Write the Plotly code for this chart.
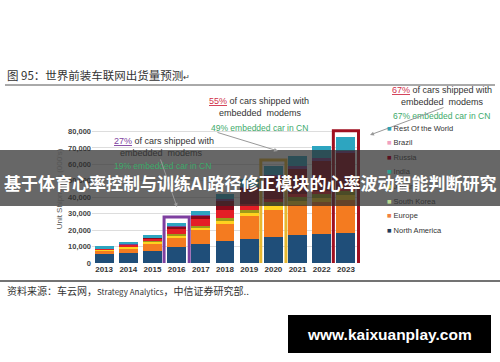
import plotly.graph_objects as go

years = ["2013", "2014", "2015", "2016", "2017", "2018", "2019", "2020", "2021", "2022", "2023"]
north_america = [5200, 6200, 7500, 9800, 11800, 13500, 14800, 15800, 16800, 17500, 18000]
europe = [2200, 2800, 4000, 5500, 8000, 10500, 13500, 16500, 18500, 19500, 20500]
south_korea = [700, 900, 1300, 1700, 1800, 2000, 2200, 2300, 2400, 2500, 2600]
japan = [300, 400, 500, 600, 800, 1200, 1800, 2200, 2500, 2800, 3000]
india = [500, 800, 1600, 3500, 4500, 5000, 3500, 2000, 1500, 1200, 1000]
russia = [0, 200, 400, 1000, 2000, 6000, 10000, 14000, 16000, 19000, 22000]
brazil = [100, 100, 200, 300, 400, 500, 700, 900, 1000, 1200, 1300]
rest_of_world = [1200, 1500, 1700, 2100, 2600, 3500, 4500, 5500, 6500, 7500, 8500]

series = [
    ("North America", north_america, "#1F4E79"),
    ("Europe", europe, "#F47B20"),
    ("South Korea", south_korea, "#FFD21F"),
    ("Japan", japan, "#9C9A1A"),
    ("India", india, "#E41E26"),
    ("Russia", russia, "#8B0A1A"),
    ("Brazil", brazil, "#7B3F8F"),
    ("Rest Of the World", rest_of_world, "#2DA5C0"),
]
legend_colors = {"North America": "#1F3A5A", "Europe": "#F08040", "South Korea": "#B8D890",
                 "Japan": "#B0B030", "India": "#2AA090", "Russia": "#5A1020",
                 "Brazil": "#F0A0C0", "Rest Of the World": "#30A0B0"}

y_ticks = [0, 10000, 20000, 30000, 40000, 50000, 60000, 70000, 80000]
y_tick_labels = ["0", "10,000", "20,000", "30,000", "40,000", "50,000", "60,000", "70,000", "80,000"]
highlights = [("2016", "#7E3FA0"), ("2020", "#E8B830"), ("2023", "#A01020")]

W, H = 500, 362
L, R, T, B = 92, 140, 115, 99
PW, PH = W - L - R, H - T - B

def px(x):
    return (x - L) / PW

def py(y):
    return (H - B - y) / PH

fig = go.Figure()
for name, vals, col in series:
    fig.add_trace(go.Bar(x=years, y=vals, name=name, marker=dict(color=col, line=dict(width=0)),
                         showlegend=False))

fig.update_layout(
    width=W, height=H, barmode="stack", bargap=0.22,
    margin=dict(l=L, r=R, t=T, b=B),
    paper_bgcolor="white", plot_bgcolor="white",
    font=dict(family="Liberation Sans, Arial, sans-serif", color="#333"),
    xaxis=dict(type="category", tickvals=years, ticktext=["<b>%s</b>" % y for y in years],
               tickfont=dict(size=8, color="#333", family="Liberation Sans"),
               showline=False, ticks="", tickangle=0),
    yaxis=dict(range=[0, 90000], tickvals=y_ticks, ticktext=["<b>%s</b>" % t for t in y_tick_labels],
               showgrid=True, gridcolor="#DDDDDD", gridwidth=1, zeroline=False,
               tickfont=dict(size=7.5, color="#444"),
               title=dict(text="Unit Shipments (000's)", font=dict(size=8, color="#555"), standoff=4)),
)

shapes = []
for yr, col in highlights:
    i = years.index(yr)
    top = sum(s[1][i] for s in series)
    shapes.append(dict(type="rect", xref="x", yref="y", x0=i - 0.52, x1=i + 0.52,
                       y0=-3500, y1=top + 3500, line=dict(color=col, width=3)))
shapes.append(dict(type="line", xref="paper", yref="paper", x0=px(5), x1=px(495), y0=py(85), y1=py(85),
                   line=dict(color="#555", width=1)))
shapes.append(dict(type="line", xref="paper", yref="paper", x0=px(0), x1=px(500), y0=py(281), y1=py(281),
                   line=dict(color="#444", width=1.5)))
shapes.append(dict(type="rect", xref="paper", yref="paper", x0=px(0), x1=px(500), y0=py(150), y1=py(206),
                   fillcolor="rgba(45,45,45,0.72)", line=dict(width=0), layer="above"))
shapes.append(dict(type="rect", xref="paper", yref="paper", x0=px(288), x1=px(491), y0=py(315), y1=py(353),
                   fillcolor="black", line=dict(width=0), layer="above"))
fig.update_layout(shapes=shapes)

ann = []
def text(x, y, s, size=8, color="#333", xanchor="left", bold=False, family=None):
    ann.append(dict(x=px(x), y=py(y), xref="paper", yref="paper", text=("<b>%s</b>" % s) if bold else s,
                    showarrow=False, xanchor=xanchor, yanchor="middle",
                    font=dict(size=size, color=color, family=family or "Liberation Sans, Arial")))

text(5, 75, "图 95：世界前装车联网出货量预测<span style='font-size:8px'>↵</span>", size=11.5, color="#333",
     family="Noto Sans CJK SC")
text(112, 141, "<span style='color:#7E3FA0'><u>27%</u></span> of cars shipped with", size=9)
text(118, 153, "embedded  modems", size=9)
text(112, 166, "19% embedded car in CN", size=8.5, color="#3DAA6A")
text(207, 101, "<span style='color:#D0304A'><u>55%</u></span> of cars shipped with", size=9)
text(217, 113, "embedded  modems", size=9)
text(209, 128, "49% embedded car in CN", size=8.5, color="#3DAA6A")
text(390, 90, "<span style='color:#D0304A'><u>67%</u></span> of cars shipped with", size=9)
text(399, 102, "embedded  modems", size=9)
text(391, 116, "67% embedded car in CN", size=8.5, color="#3DAA6A")

for (x0, y0, x1, y1) in [(160, 158, 177, 207), (216, 132, 278, 151), (445, 107, 370, 135)]:
    ann.append(dict(x=px(x1), y=py(y1), xref="paper", yref="paper",
                    ax=x0 - x1, ay=y0 - y1, axref="pixel", ayref="pixel",
                    showarrow=True, arrowhead=2, arrowsize=0.8,
                    arrowwidth=1, arrowcolor="#999", text=""))

for k, (name, vals, col) in enumerate(reversed(series)):
    yy = 128 + k * 14.6
    text(385, yy, "<span style='color:%s'>■</span> %s" % (legend_colors[name], name), size=7.5, color="#333")

text(5, 290, "资料来源：车云网，<span style='font-size:8px'>Strategy Analytics</span>，中信证券研究部..",
     size=10, color="#333", family="Noto Sans CJK SC")
text(250, 182, "基于体育心率控制与训练AI路径修正模块的心率波动智能判断研究", size=17, color="white",
     xanchor="center", bold=True, family="Noto Sans CJK SC")
text(389.5, 334, "www.kaixuanplay.com", size=15.5, color="white", xanchor="center", bold=True,
     family="Liberation Sans")
fig.update_layout(annotations=ann)

fig.write_html("out.html")
